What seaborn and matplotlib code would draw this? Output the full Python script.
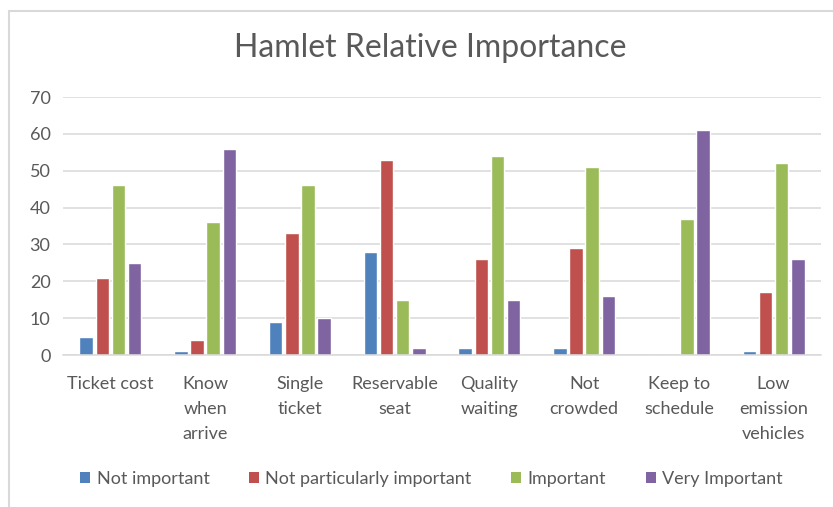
import matplotlib
matplotlib.use("Agg")
import matplotlib.pyplot as plt
from matplotlib.lines import Line2D
from matplotlib.patches import Patch
import seaborn as sns
import pandas as pd

categories = ["Ticket cost", "Know\nwhen\narrive", "Single\nticket", "Reservable\nseat",
              "Quality\nwaiting", "Not\ncrowded", "Keep to\nschedule", "Low\nemission\nvehicles"]
series_names = ["Not important", "Not particularly important", "Important", "Very Important"]
not_important = [5, 1, 9, 28, 2, 2, 0, 1]
not_particularly = [21, 4, 33, 53, 26, 29, 0, 17]
important = [46, 36, 46, 15, 54, 51, 37, 52]
very_important = [25, 56, 10, 2, 15, 16, 61, 26]
y_ticks = [0, 10, 20, 30, 40, 50, 60, 70]

colors = ["#4F81BD", "#C0504D", "#9BBB59", "#8064A2"]
text_color = "#595959"
grid_color = "#D9D9D9"

rows = []
for name, vals in zip(series_names, [not_important, not_particularly, important, very_important]):
    for cat, v in zip(categories, vals):
        rows.append({"category": cat, "series": name, "value": v})
df = pd.DataFrame(rows)

sns.set_theme(style="white")
plt.rcParams["font.family"] = ["Lato", "DejaVu Sans"]

fig = plt.figure(figsize=(8.33, 5.07), dpi=100)
ax = fig.add_axes([63 / 833, 1 - 355 / 507, (821 - 63) / 833, (355 - 97) / 507])

sns.barplot(data=df, x="category", y="value", hue="series", order=categories,
            hue_order=series_names, palette=colors, width=0.68, gap=0.16,
            saturation=1, ax=ax, legend=False)

ax.set_ylim(0, 70)
ax.set_xlim(-0.5, len(categories) - 0.5)
ax.set_yticks(y_ticks)
ax.yaxis.grid(True, color=grid_color, linewidth=1.1)
ax.set_axisbelow(True)
for side in ["top", "right", "left"]:
    ax.spines[side].set_visible(False)
ax.spines["bottom"].set_color(grid_color)
ax.spines["bottom"].set_linewidth(1.1)
ax.set_xlabel("")
ax.set_ylabel("")
ax.tick_params(axis="y", length=0, pad=9, labelsize=13, labelcolor=text_color)
ax.tick_params(axis="x", length=0, pad=15, labelsize=13, labelcolor=text_color)
for lbl in ax.get_xticklabels():
    lbl.set_linespacing(1.68)
    lbl.set_verticalalignment("top")

fig.text(0.516, 1 - 48 / 507, "Hamlet Relative Importance", ha="center", va="center",
         fontsize=23, color=text_color)

handles = [Patch(facecolor=c, edgecolor="none") for c in colors]
fig.legend(handles, series_names, loc="center", bbox_to_anchor=(0.518, 1 - 479 / 507),
           ncol=4, frameon=False, fontsize=13, labelcolor=text_color,
           handlelength=0.55, handleheight=0.55, handletextpad=0.35, columnspacing=2.2)

# chart area border
x0 = 9 / 833
y0 = 1 - 11 / 507
fig.add_artist(Line2D([x0, x0], [0, y0], transform=fig.transFigure, color=grid_color, linewidth=1.5))
fig.add_artist(Line2D([x0, 1], [y0, y0], transform=fig.transFigure, color=grid_color, linewidth=1.5))

fig.savefig("out.png", dpi=100, facecolor="white")
